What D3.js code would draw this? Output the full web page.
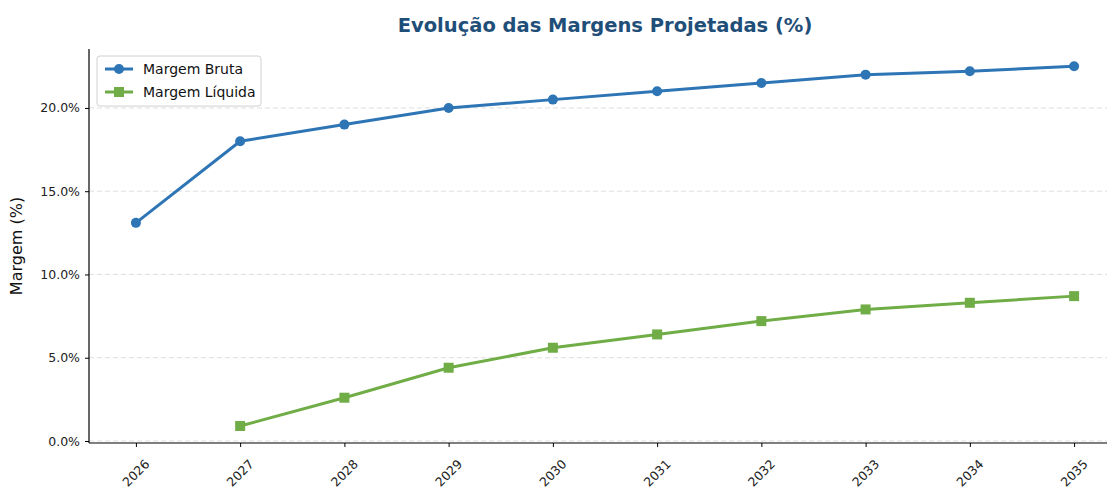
<!DOCTYPE html>
<html>
<head>
<meta charset="utf-8">
<script src="https://cdn.jsdelivr.net/npm/d3@7"></script>
<style>
body { margin: 0; background: #fff; }
svg { font-family: "DejaVu Sans", sans-serif; }
</style>
</head>
<body>
<div id="chart"></div>
<script>
const years = [2026, 2027, 2028, 2029, 2030, 2031, 2032, 2033, 2034, 2035];
const margemBruta = [13.1, 18.0, 19.0, 20.0, 20.5, 21.0, 21.5, 22.0, 22.2, 22.5];
const margemLiquida = [null, 0.9, 2.6, 4.4, 5.6, 6.4, 7.2, 7.9, 8.3, 8.7];
const yTicks = [0, 5, 10, 15, 20];

const width = 1107, height = 490;
const mLeft = 89, mTop = 49, mRight = 1121, mBottom = 443;

const svg = d3.select("#chart").append("svg")
    .attr("width", width)
    .attr("height", height);

const x = d3.scaleLinear()
    .domain([2026 - 0.45, 2035 + 0.45])
    .range([mLeft, mRight]);

const y = d3.scaleLinear()
    .domain([-0.12, 23.54])
    .range([mBottom, mTop]);

// grid
svg.append("g")
    .selectAll("line")
    .data(yTicks)
    .enter().append("line")
    .attr("x1", mLeft).attr("x2", mRight)
    .attr("y1", d => y(d)).attr("y2", d => y(d))
    .attr("stroke", "#b0b0b0")
    .attr("stroke-opacity", 0.5)
    .attr("stroke-dasharray", "5,3")
    .attr("stroke-width", 0.8);

// axes
const yAxis = svg.append("g")
    .attr("transform", `translate(${mLeft},0)`)
    .call(d3.axisLeft(y).tickValues(yTicks).tickSize(4).tickPadding(5).tickFormat(d => d.toFixed(1) + "%"));
yAxis.select(".domain").attr("d", `M0,${mTop}V${mBottom}`).attr("stroke", "#000").attr("stroke-width", 1.2);
yAxis.selectAll("text").attr("font-size", 12.5).attr("fill", "#222").attr("font-family", "DejaVu Sans");

const xAxis = svg.append("g")
    .attr("transform", `translate(0,${mBottom})`)
    .call(d3.axisBottom(x).tickValues(years).tickSize(4).tickFormat(d3.format("d")));
xAxis.select(".domain").attr("d", `M${mLeft},0H${mRight}`).attr("stroke", "#000").attr("stroke-width", 1.2);
xAxis.selectAll("text")
    .attr("font-size", 12.5).attr("fill", "#222").attr("font-family", "DejaVu Sans")
    .attr("text-anchor", "end")
    .attr("dy", null)
    .attr("transform", "translate(9,17) rotate(-45)");

// y label
svg.append("text")
    .attr("transform", `translate(22,${(mTop + mBottom) / 2}) rotate(-90)`)
    .attr("text-anchor", "middle")
    .attr("font-size", 16)
    .attr("fill", "#111")
    .text("Margem (%)");

// title
svg.append("text")
    .attr("x", 605).attr("y", 32)
    .attr("text-anchor", "middle")
    .attr("font-size", 19.5)
    .attr("font-weight", "bold")
    .attr("fill", "#1F4E79")
    .text("Evolução das Margens Projetadas (%)");

const blue = "#2E75B6", green = "#70AD47";

const line = d3.line()
    .defined(d => d[1] != null)
    .x(d => x(d[0]))
    .y(d => y(d[1]));

const bruta = years.map((yr, i) => [yr, margemBruta[i]]);
const liquida = years.map((yr, i) => [yr, margemLiquida[i]]);

svg.append("path").datum(bruta)
    .attr("d", line).attr("fill", "none")
    .attr("stroke", blue).attr("stroke-width", 3);
svg.append("g").selectAll("circle")
    .data(bruta).enter().append("circle")
    .attr("cx", d => x(d[0])).attr("cy", d => y(d[1]))
    .attr("r", 5).attr("fill", blue);

svg.append("path").datum(liquida)
    .attr("d", line).attr("fill", "none")
    .attr("stroke", green).attr("stroke-width", 3);
svg.append("g").selectAll("rect")
    .data(liquida.filter(d => d[1] != null)).enter().append("rect")
    .attr("x", d => x(d[0]) - 5).attr("y", d => y(d[1]) - 5)
    .attr("width", 10).attr("height", 10).attr("fill", green);

// legend
const lg = svg.append("g").attr("transform", "translate(97,56)");
lg.append("rect")
    .attr("width", 164).attr("height", 50).attr("rx", 3)
    .attr("fill", "#fff").attr("fill-opacity", 0.8)
    .attr("stroke", "#d0d0d0");
const items = [["Margem Bruta", blue, "circle"], ["Margem Líquida", green, "square"]];
items.forEach((it, i) => {
    const g = lg.append("g").attr("transform", `translate(0,${13 + i * 23})`);
    g.append("line").attr("x1", 8).attr("x2", 36).attr("stroke", it[1]).attr("stroke-width", 3);
    if (it[2] === "circle") g.append("circle").attr("cx", 22).attr("r", 5).attr("fill", it[1]);
    else g.append("rect").attr("x", 17).attr("y", -5).attr("width", 10).attr("height", 10).attr("fill", it[1]);
    g.append("text").attr("x", 46).attr("dy", "0.35em")
        .attr("font-size", 14).attr("fill", "#111").text(it[0]);
});
</script>
</body>
</html>
